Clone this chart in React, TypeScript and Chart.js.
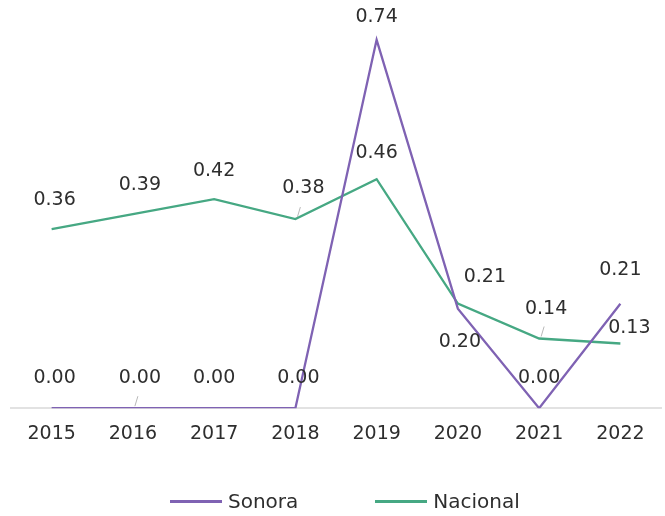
import React, { useEffect, useRef } from "react";
import { Chart, registerables } from "chart.js";

Chart.register(...registerables);

const years = ["2015", "2016", "2017", "2018", "2019", "2020", "2021", "2022"];
const sonora = [0.0, 0.0, 0.0, 0.0, 0.74, 0.2, 0.0, 0.21];
const nacional = [0.36, 0.39, 0.42, 0.38, 0.46, 0.21, 0.14, 0.13];
const seriesNames = ["Sonora", "Nacional"];

// Label placement relative to each point: [dx, dy]
const sonoraLabelOffsets = [[3, -30], [7, -30], [0, -30], [3, -30], [0, -23], [2, 33], [0, -30], [0, -34]];
const nacionalLabelOffsets = [[3, -29], [7, -29], [0, -28], [8, -31], [0, -26], [27, -27], [7, -29], [9, -15]];
// Small leader ticks: [datasetIndex, pointIndex]
const leaders = [[0, 1], [1, 3], [1, 6]];

const PURPLE = "#7f62b3";
const GREEN = "#46a883";
const TEXT = "#2e2e2e";
const FONT = "'DejaVu Sans', 'Noto Sans', sans-serif";

const valueLabels = {
  id: "valueLabels",
  afterDatasetsDraw(chart: any) {
    const ctx = chart.ctx;
    ctx.save();
    ctx.font = `19px ${FONT}`;
    ctx.fillStyle = TEXT;
    ctx.textAlign = "center";
    ctx.textBaseline = "middle";
    const offsets = [sonoraLabelOffsets, nacionalLabelOffsets];
    chart.data.datasets.forEach((ds: any, di: number) => {
      const meta = chart.getDatasetMeta(di);
      meta.data.forEach((pt: any, i: number) => {
        const [dx, dy] = offsets[di][i];
        ctx.fillText(Number(ds.data[i]).toFixed(2), pt.x + dx, pt.y + dy);
      });
    });
    ctx.strokeStyle = "#b8b8b8";
    ctx.lineWidth = 1;
    leaders.forEach(([di, i]) => {
      const pt = chart.getDatasetMeta(di).data[i];
      ctx.beginPath();
      ctx.moveTo(pt.x + 5, pt.y - 12);
      ctx.lineTo(pt.x + 2, pt.y - 2);
      ctx.stroke();
    });
    ctx.restore();
  },
};

export default function App() {
  const ref = useRef<HTMLCanvasElement | null>(null);

  useEffect(() => {
    if (!ref.current) return;
    const chart = new Chart(ref.current, {
      type: "line",
      data: {
        labels: years,
        datasets: [
          {
            label: seriesNames[0],
            data: sonora,
            borderColor: PURPLE,
            backgroundColor: PURPLE,
            borderWidth: 2.3,
            pointRadius: 0,
            tension: 0,
          },
          {
            label: seriesNames[1],
            data: nacional,
            borderColor: GREEN,
            backgroundColor: GREEN,
            borderWidth: 2.3,
            pointRadius: 0,
            tension: 0,
          },
        ],
      },
      options: {
        animation: false,
        responsive: false,
        layout: { padding: { left: 11, right: 4, top: 10, bottom: 65 } },
        scales: {
          x: {
            offset: true,
            grid: { display: false },
            border: { display: true, color: "#e2e2e2", width: 2 },
            ticks: {
              color: TEXT,
              font: { size: 19, family: FONT },
              padding: 6,
              maxRotation: 0,
            },
          },
          y: {
            display: false,
            min: 0,
            max: 0.8,
          },
        },
        plugins: {
          legend: { display: false },
          tooltip: { enabled: false },
        },
      },
      plugins: [valueLabels],
    });
    return () => chart.destroy();
  }, []);

  const legendItem = (name: string, color: string) => (
    <div style={{ display: "flex", alignItems: "center" }}>
      <div style={{ width: 52, height: 3, background: color, marginRight: 6 }} />
      <span style={{ fontFamily: FONT, fontSize: 20, color: TEXT, lineHeight: "24px" }}>{name}</span>
    </div>
  );

  return (
    <div style={{ position: "fixed", left: 0, top: 0, width: 665, height: 516, background: "#fff" }}>
      <canvas ref={ref} width={665} height={516} style={{ position: "absolute", left: 0, top: 0 }} />
      <div
        style={{
          position: "absolute",
          left: 170,
          top: 489,
          display: "flex",
          alignItems: "center",
          gap: 77,
        }}
      >
        {legendItem(seriesNames[0], PURPLE)}
        {legendItem(seriesNames[1], GREEN)}
      </div>
    </div>
  );
}
